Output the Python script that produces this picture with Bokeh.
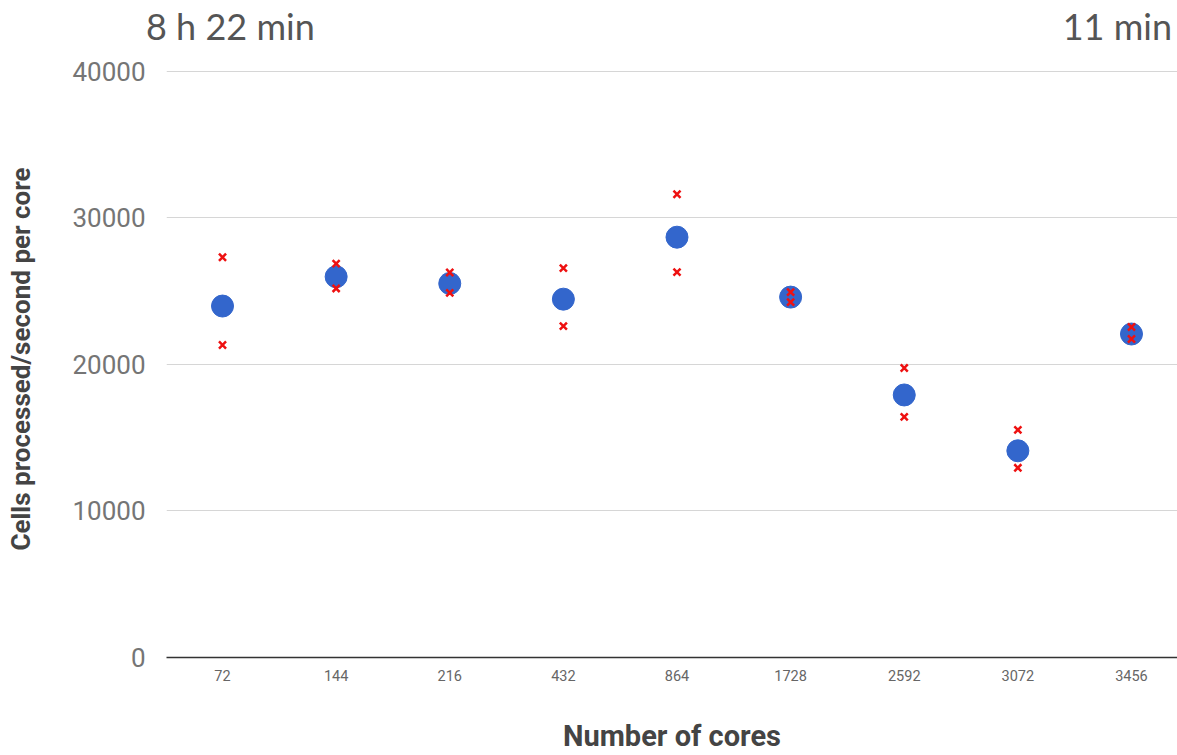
from bokeh.plotting import figure
from bokeh.layouts import column
from bokeh.models import Div, FixedTicker, Range1d, SingleIntervalTicker
from bokeh.embed import file_html
from bokeh.resources import INLINE

cores = ["72", "144", "216", "432", "864", "1728", "2592", "3072", "3456"]
mean_rate = [23990, 25990, 25530, 24460, 28690, 24600, 17920, 14110, 22080]
max_rate = [27320, 26890, 26280, 26580, 31620, 24940, 19760, 15540, 22560]
min_rate = [21330, 25190, 24890, 22620, 26300, 24260, 16420, 12950, 21740]
left_note = "8 h 22 min"
right_note = "11 min"

xs = list(range(len(cores)))

W = 1177
HEAD_H = 48
FIG_H = 707

span_style = ("position:absolute;top:4px;line-height:45px;font-family:Lato,sans-serif;"
              "font-size:36px;color:#555555;white-space:nowrap;")
head_html = (
    f'<div style="position:relative;width:{W}px;height:{HEAD_H}px;">'
    f'<span style="{span_style}left:146px;">{left_note}</span>'
    f'<span style="{span_style}right:5px;">{right_note}</span>'
    '</div>'
)
head = Div(text=head_html, width=W, height=HEAD_H, margin=0)

p = figure(width=W, height=FIG_H, output_backend="svg", toolbar_location=None,
           x_range=Range1d(-0.493, 8.405), y_range=Range1d(0, 40750),
           min_border_left=166, min_border_right=0, min_border_top=12,
           min_border_bottom=97)
p.outline_line_color = None
p.background_fill_color = "white"

p.xaxis.ticker = FixedTicker(ticks=xs)
p.xaxis.major_label_overrides = {i: c for i, c in enumerate(cores)}
p.yaxis.ticker = SingleIntervalTicker(interval=10000)

p.xgrid.grid_line_color = None
p.ygrid.grid_line_color = "#d6d6d6"
p.ygrid.grid_line_width = 1

p.xaxis.axis_line_color = "#333333"
p.xaxis.axis_line_width = 1.5
p.xaxis.major_tick_line_color = None
p.xaxis.minor_tick_line_color = None
p.xaxis.major_label_text_font = "Roboto"
p.xaxis.major_label_text_font_size = "14.5px"
p.xaxis.major_label_text_color = "#666666"
p.xaxis.major_label_standoff = 6
p.xaxis.axis_label = "Number of cores"
p.xaxis.axis_label_text_font = "Roboto"
p.xaxis.axis_label_text_font_style = "bold"
p.xaxis.axis_label_text_font_size = "29px"
p.xaxis.axis_label_text_color = "#444444"
p.xaxis.axis_label_standoff = 35

p.yaxis.axis_line_color = None
p.yaxis.major_tick_line_color = None
p.yaxis.minor_tick_line_color = None
p.yaxis.major_label_text_font = "Roboto"
p.yaxis.major_label_text_font_size = "26px"
p.yaxis.major_label_text_color = "#757575"
p.yaxis.major_label_standoff = 15
p.yaxis.axis_label = "Cells processed/second per core"
p.yaxis.axis_label_text_font = "Roboto"
p.yaxis.axis_label_text_font_style = "bold"
p.yaxis.axis_label_text_font_size = "26px"
p.yaxis.axis_label_text_color = "#444444"
p.yaxis.axis_label_standoff = 33

p.scatter(xs, mean_rate, size=22, color="#3366cc", line_color="#3366cc")
p.scatter(xs, max_rate, marker="x", size=10, line_width=2.5, color="#ee1111")
p.scatter(xs, min_rate, marker="x", size=10, line_width=2.5, color="#ee1111")

layout = column(head, p, spacing=0)
open("out.html", "w").write(file_html(layout, INLINE))
